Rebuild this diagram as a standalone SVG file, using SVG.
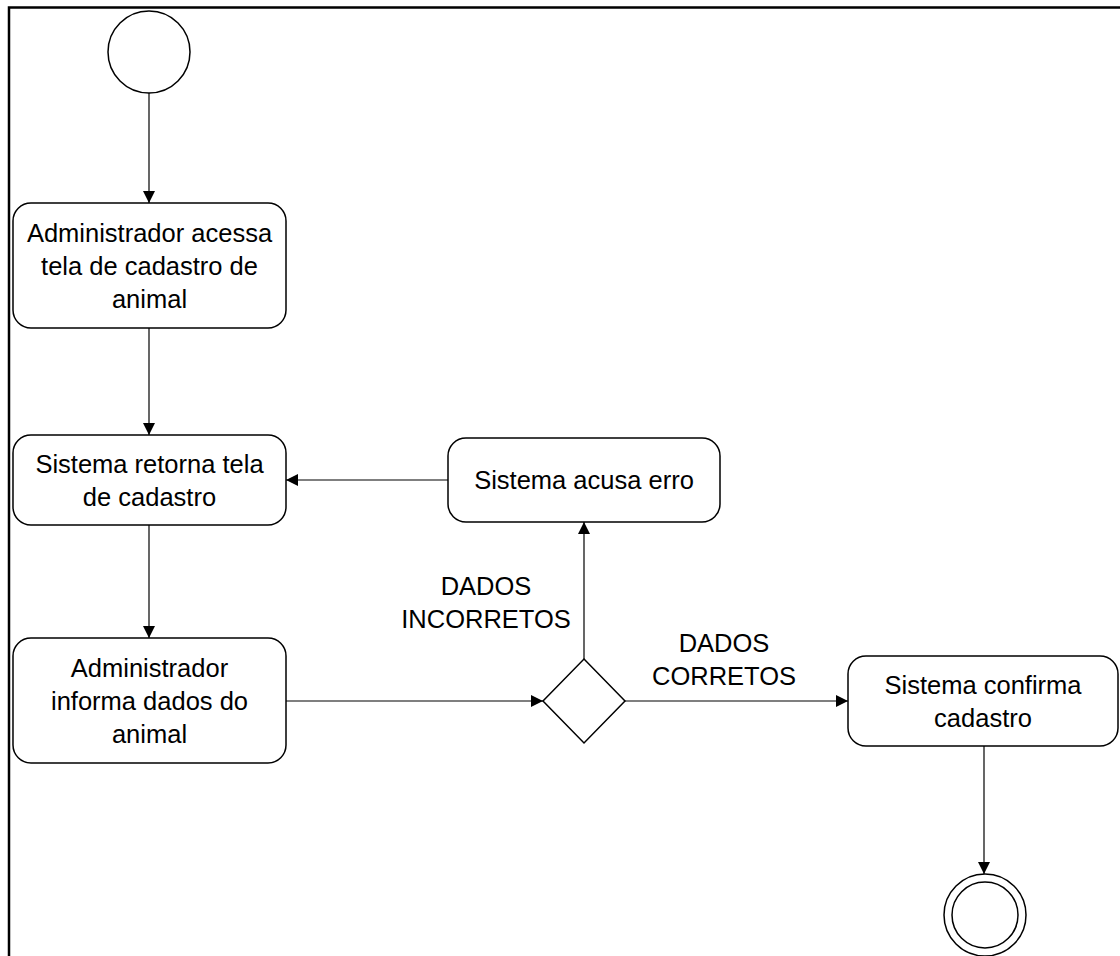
<svg xmlns="http://www.w3.org/2000/svg" width="1120" height="956" viewBox="0 0 1120 956">
<style>
.frame{fill:none;stroke:#000;stroke-width:2.5}
.node{fill:#fff;stroke:#000;stroke-width:1.5}
.edge{fill:none;stroke:#000;stroke-width:1.2}
.t{font-family:"Liberation Sans",Arial,sans-serif;font-size:25.5px;fill:#000;text-anchor:middle}
</style>
<defs>
<marker id="arr" viewBox="0 0 12 12" refX="12" refY="6" markerWidth="12" markerHeight="12" markerUnits="userSpaceOnUse" orient="auto">
<path d="M0,0 L12,6 L0,12 Z" fill="#000"/>
</marker>
</defs>
<rect width="1120" height="956" fill="#fff"/>
<path class="frame" d="M9,956 V7.5 H1120"/>
<g id="connectors">
<line class="edge" x1="149" y1="93" x2="149" y2="203" marker-end="url(#arr)"/>
<line class="edge" x1="149" y1="328" x2="149" y2="435" marker-end="url(#arr)"/>
<line class="edge" x1="149" y1="525" x2="149" y2="638" marker-end="url(#arr)"/>
<line class="edge" x1="286" y1="701" x2="543" y2="701" marker-end="url(#arr)"/>
<line class="edge" x1="584" y1="659" x2="584" y2="522" marker-end="url(#arr)"/>
<line class="edge" x1="448" y1="480" x2="286" y2="480" marker-end="url(#arr)"/>
<line class="edge" x1="625" y1="701" x2="848" y2="701" marker-end="url(#arr)"/>
<line class="edge" x1="984" y1="746" x2="984" y2="874" marker-end="url(#arr)"/>
<text class="t" x="486" y="595">DADOS</text>
<text class="t" x="486" y="628">INCORRETOS</text>
<text class="t" x="724" y="652">DADOS</text>
<text class="t" x="724" y="685">CORRETOS</text>
</g>
<g id="start">
<circle class="node" cx="149" cy="52" r="41"/>
</g>
<g id="acessa">
<rect class="node" x="13" y="203" width="273" height="125" rx="18"/>
<text class="t" x="149.5" y="242">Administrador acessa</text>
<text class="t" x="149.5" y="275">tela de cadastro de</text>
<text class="t" x="149.5" y="308">animal</text>
</g>
<g id="retorna">
<rect class="node" x="13" y="435" width="273" height="90" rx="18"/>
<text class="t" x="149.5" y="473">Sistema retorna tela</text>
<text class="t" x="149.5" y="506">de cadastro</text>
</g>
<g id="informa">
<rect class="node" x="13" y="638" width="273" height="125" rx="18"/>
<text class="t" x="149.5" y="677">Administrador</text>
<text class="t" x="149.5" y="710">informa dados do</text>
<text class="t" x="149.5" y="743">animal</text>
</g>
<g id="erro">
<rect class="node" x="448" y="438" width="272" height="84" rx="18"/>
<text class="t" x="584" y="489">Sistema acusa erro</text>
</g>
<g id="decisao">
<path class="node" d="M584,659 L625,701 L584,743 L543,701 Z"/>
</g>
<g id="confirma">
<rect class="node" x="848" y="656" width="270" height="90" rx="18"/>
<text class="t" x="983" y="694">Sistema confirma</text>
<text class="t" x="983" y="727">cadastro</text>
</g>
<g id="fim">
<circle class="node" cx="985" cy="915" r="41"/>
<circle class="node" cx="985" cy="915" r="33"/>
</g>
</svg>
